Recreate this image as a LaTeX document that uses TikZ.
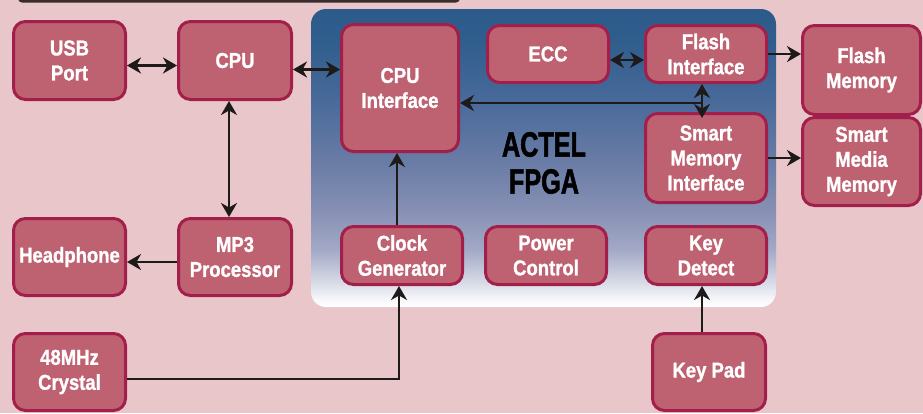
\documentclass[tikz,border=0pt]{standalone}
\usepackage{fontspec}
\usepackage{tikz}
\usetikzlibrary{arrows.meta}
\newfontfamily\blkfont[FakeStretch=0.86,FakeBold=1.2]{Liberation Sans}
\newfontfamily\fpgafont[FakeStretch=0.72,FakeBold=1.5]{Liberation Sans}
\definecolor{bgpink}{HTML}{E8C6C9}
\definecolor{blkfill}{HTML}{BE6170}
\definecolor{blkline}{HTML}{A31F4B}
\definecolor{arrowblack}{HTML}{1E1A1A}
\definecolor{barblack}{HTML}{3A2C2C}
\definecolor{fpgaA}{HTML}{F8F8FB}
\definecolor{fpgaB}{HTML}{D4D7E4}
\definecolor{fpgaC}{HTML}{A3A9C6}
\definecolor{fpgaD}{HTML}{8690B4}
\definecolor{fpgaE}{HTML}{6B7DA6}
\definecolor{fpgaF}{HTML}{486A9A}
\definecolor{fpgaG}{HTML}{2F5D8C}
\definecolor{fpgaH}{HTML}{2C5B8B}
\pgfdeclareverticalshading{fpgashade}{100bp}{color(0bp)=(white); color(25bp)=(white);
  color(26.2bp)=(fpgaA); color(29.5bp)=(fpgaB); color(34.6bp)=(fpgaC);
  color(41.3bp)=(fpgaD); color(48.8bp)=(fpgaE); color(59.7bp)=(fpgaF);
  color(69.8bp)=(fpgaG); color(75bp)=(fpgaH); color(100bp)=(fpgaH)}
\tikzset{
  blk/.style={draw=blkline, fill=blkfill, line width=3pt, rounded corners=12pt, text=white,
    align=center, inner sep=0pt, font=\blkfont\bfseries\fontsize{21.5}{25}\selectfont},
  ar/.style={arrowblack, line width=2.6pt, -{Stealth[length=14pt,width=16pt,inset=4.5pt]}},
  dar/.style={arrowblack, line width=2.6pt,
    {Stealth[length=14pt,width=16pt,inset=4.5pt]}-{Stealth[length=14pt,width=16pt,inset=4.5pt]}}
}

\begin{document}
\begin{tikzpicture}[x=1pt,y=-1pt]
\fill[bgpink] (0,0) rectangle (923,413);
\useasboundingbox (0,0) rectangle (923,413);
\fill[barblack, rounded corners=4pt] (18,-8) rectangle (460,2.5);
\shade[shading=fpgashade, rounded corners=15pt] (311,9) rectangle (776,307);
\node[font=\fpgafont\bfseries\fontsize{35}{37}\selectfont, text=black, align=center] (fpga) at (544,163) {ACTEL\\FPGA};

\node[blk, minimum width=112pt, minimum height=78pt] (usb) at (69.5,60.5) {USB\\Port};
\node[blk, minimum width=113pt, minimum height=78pt] (cpu) at (235,60.5) {CPU};
\node[blk, minimum width=112pt, minimum height=77pt] (head) at (69.5,257) {Headphone};
\node[blk, minimum width=113pt, minimum height=77pt] (mp3) at (235,257) {MP3\\Processor};
\node[blk, minimum width=112pt, minimum height=77pt] (xtal) at (69.5,372) {48MHz\\Crystal};
\node[blk, minimum width=117pt, minimum height=127pt] (cpuif) at (400,88) {CPU\\Interface};
\node[blk, minimum width=121pt, minimum height=57pt] (ecc) at (548,54) {ECC};
\node[blk, minimum width=121pt, minimum height=57pt] (flashif) at (706,54) {Flash\\Interface};
\node[blk, minimum width=121pt, minimum height=89pt] (smif) at (706,158) {Smart\\Memory\\Interface};
\node[blk, minimum width=118pt, minimum height=89pt] (flashmem) at (861.5,70) {Flash\\Memory};
\node[blk, minimum width=118pt, minimum height=88pt] (smmem) at (861.5,161.5) {Smart\\Media\\Memory};
\node[blk, minimum width=121pt, minimum height=58pt] (clk) at (402,255.5) {Clock\\Generator};
\node[blk, minimum width=121pt, minimum height=58pt] (pwr) at (546,255.5) {Power\\Control};
\node[blk, minimum width=121pt, minimum height=58pt] (keydet) at (706,255.5) {Key\\Detect};
\node[blk, minimum width=113pt, minimum height=77pt] (keypad) at (709,372) {Key Pad};

\coordinate (busy) at (0,103);
\draw[dar] ([yshift=-5pt]usb.east) -- ([yshift=-5pt]cpu.west);
\draw[dar] ([yshift=-9pt]cpu.east) -- ([yshift=-9pt]cpu.east -| cpuif.west);
\draw[dar] ([xshift=-6pt]cpu.south) -- ([xshift=-6pt]mp3.north);
\draw[ar] ([yshift=-5pt]mp3.west) -- ([yshift=-5pt]head.east);
\draw[dar] ([yshift=-6pt]ecc.east) -- ([yshift=-6pt]flashif.west);
\draw[ar] (flashif.east) -- (flashif.east -| flashmem.west);
\draw[ar] (smif.east) -- (smif.east -| smmem.west);
\draw[dar] ([xshift=-4pt]flashif.south) -- ([xshift=-4pt,yshift=-6pt]smif.north);
\draw[ar] ([xshift=-4pt]flashif.south |- busy) -- (cpuif.east |- busy);
\draw[ar] ([xshift=-5pt]clk.north) -- ([xshift=-5pt]clk.north |- cpuif.south);
\draw[ar] ([yshift=-7pt]xtal.east) -| ([xshift=-3pt]clk.south);
\draw[ar] ([xshift=-4pt]keydet.south |- keypad.north) -- ([xshift=-4pt]keydet.south);
\end{tikzpicture}
\end{document}
